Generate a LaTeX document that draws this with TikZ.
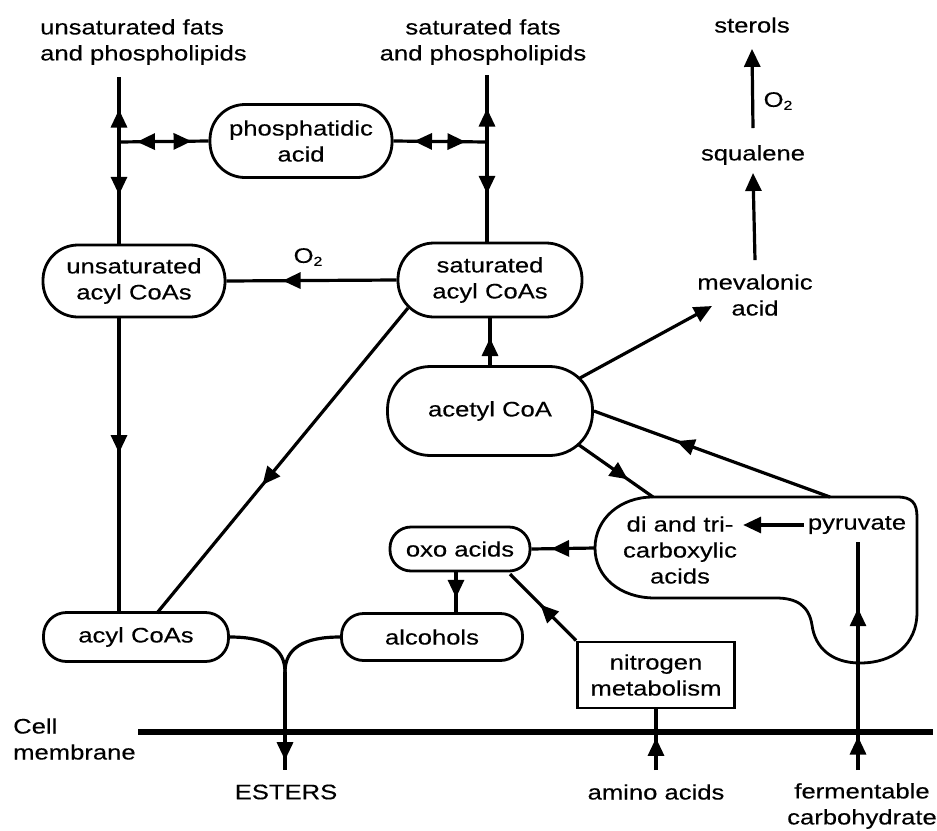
\documentclass[tikz,border=0pt]{standalone}
\usepackage{fontspec}
\setmainfont{Liberation Sans}[FakeStretch=1.22,FakeBold=0.3]
\usetikzlibrary{arrows.meta,decorations.markings,calc}
\tikzset{
  box/.style={draw, line width=2.8pt, rectangle, inner sep=0pt, align=center},
  lbl/.style={inner sep=0pt, align=center},
  conn/.style={line width=3.2pt},
  tipend/.style={-{Triangle[length=18pt,width=16pt]}},
  marr/.style={postaction={decorate,decoration={markings,mark=at position #1 with {\arrow{Triangle[length=18pt,width=16pt]}}}}},
  rarr/.style={postaction={decorate,decoration={markings,mark=at position #1 with {\arrowreversed{Triangle[length=18pt,width=16pt]}}}}},
}
\begin{document}
\begin{tikzpicture}[x=1pt,y=-1pt,font=\fontsize{21}{26}\selectfont]
\useasboundingbox (0,0) rectangle (937,830);

% labels
\node[lbl, align=left, anchor=west] (ufats) at (40,42) {unsaturated fats\\and phospholipids};
\node[lbl] (sfats) at (483,42) {saturated fats\\and phospholipids};
\node[lbl] (sterols) at (752,25) {sterols};
\node[lbl] (squal) at (753,155) {squalene};
\node[lbl] (mev) at (755,295) {mevalonic\\acid};
\node[lbl] (o2a) at (308,257) {O{\fontsize{13}{13}\selectfont\raisebox{-3pt}{2}}};
\node[lbl] (o2b) at (778,101) {O{\fontsize{13}{13}\selectfont\raisebox{-3pt}{2}}};

% boxes
\node[box, minimum width=182, minimum height=73, rounded corners=35] (phos) at (301,141) {phosphatidic\\acid};
\node[box, minimum width=182, minimum height=72, rounded corners=35] (unsat) at (134,281) {unsaturated\\acyl CoAs};
\node[box, minimum width=184, minimum height=74, rounded corners=36] (sat) at (490,280) {saturated\\acyl CoAs};
\node[box, minimum width=205, minimum height=89, rounded corners=43] (acetyl) at (490,411) {acetyl CoA};
\node[box, minimum width=140, minimum height=44, rounded corners=21] (oxo) at (460,549) {oxo acids};
\node[box, minimum width=181, minimum height=47, rounded corners=22] (alc) at (432,637) {alcohols};
\node[box, minimum width=185, minimum height=49, rounded corners=23] (acyl) at (136,637) {acyl CoAs};
\node[box, minimum width=157, minimum height=66] (nitro) at (656,675) {nitrogen\\metabolism};

% blob
\draw[line width=2.8pt] (653,497) -- (897,497) .. controls (912,497) and (917,503) .. (917,517)
  -- (917,612) .. controls (917,645) and (893,663) .. (860,663)
  .. controls (832,663) and (815,648) .. (812,625)
  .. controls (809,606) and (797,598) .. (776,598) -- (655,598)
  .. controls (620,598) and (595,577) .. (595,548)
  .. controls (595,519) and (620,497) .. (653,497) -- cycle;
\node[lbl] (di) at (680,550) {di and tri-\\carboxylic\\acids};
\node[lbl, inner sep=4pt] (pyr) at (857,525) {pyruvate};

% bottom labels
\node[lbl] (esters) at (286,792) {ESTERS};
\node[lbl] (amino) at (656,792) {amino acids};
\node[lbl] (ferm) at (862,806) {fermentable\\carbohydrate};
\node[lbl, align=left, anchor=west] (cell) at (13,739) {Cell\\membrane};

% coordinates
\coordinate (ltop) at (119,77);
\coordinate (lj) at (119,142);
\coordinate (rtop) at (487,75);
\coordinate (rj) at (487,142);
\coordinate (btopA) at (653,497);
\coordinate (btopB) at (830,497);
\coordinate (bleft) at (595,548);
\coordinate (jn) at (285,672);
\coordinate (estend) at (285,770);
\coordinate (aminoend) at (656,770);
\coordinate (fermend) at (858,770);
\coordinate (mL) at (138,732);
\coordinate (mR) at (933,732);

% membrane
\draw[line width=5.5pt] (mL) -- (mR);

% connectors
\draw[conn, marr=0.5] (lj) -- (ltop);
\draw[conn, marr=0.52] (lj) -- (lj |- unsat.north);
\draw[conn, rarr=0.2, marr=0.81] (lj) -- (phos.west);
\draw[conn, rarr=0.22, marr=0.77] (phos.east) -- (rj);
\draw[conn, marr=0.5] (rj) -- (rtop);
\draw[conn, marr=0.52] (rj) -- (rj |- sat.north);
\draw[conn, marr=0.67] (sat.west) -- (unsat.east);
\draw[conn, marr=0.46] (lj |- unsat.south) -- (lj |- acyl.north);
\draw[conn, marr=0.58] ($(sat.center)+(-82,28)$) -- ($(acyl.center)+(21,-24)$);
\draw[conn, marr=0.58] (acetyl.north) -- (sat.south);
\draw[conn, tipend] ($(acetyl.center)+(90,-33)$) -- ($(mev.center)+(-43,11)$);
\draw[conn, marr=0.65] (btopB) -- (acetyl.east);
\draw[conn, marr=0.66] ($(acetyl.center)+(89,34)$) -- (btopA);
\draw[conn, marr=0.69] (bleft) -- (oxo.east);
\draw[conn, marr=0.64] ($(oxo.south)+(-4,0)$) -- ($(alc.north)+(24,0)$);
\draw[conn, marr=0.54] (nitro.north west) -- ($(oxo.center)+(50,25)$);
\draw[conn] (acyl.east) .. controls (266,637) and (285,648) .. (jn);
\draw[conn] (alc.west) .. controls (304,637) and (285,648) .. (jn);
\draw[conn, marr=0.9] (jn) -- (estend);
\draw[conn, marr=0.53] (aminoend) -- (nitro.south);
\draw[conn, marr=0.147, marr=0.71] (fermend) -- ($(pyr.south)+(1,4)$);
\draw[conn, tipend] (pyr.west) -- ($(pyr.west -| di.east)+(6,0)$);
\draw[conn, tipend] ($(mev.north)+(0,-14)$) -- ($(squal.south)+(0,8)$);
\draw[conn, tipend] ($(squal.north)+(0,-17)$) -- ($(sterols.south)+(0,16)$);
\end{tikzpicture}
\end{document}
